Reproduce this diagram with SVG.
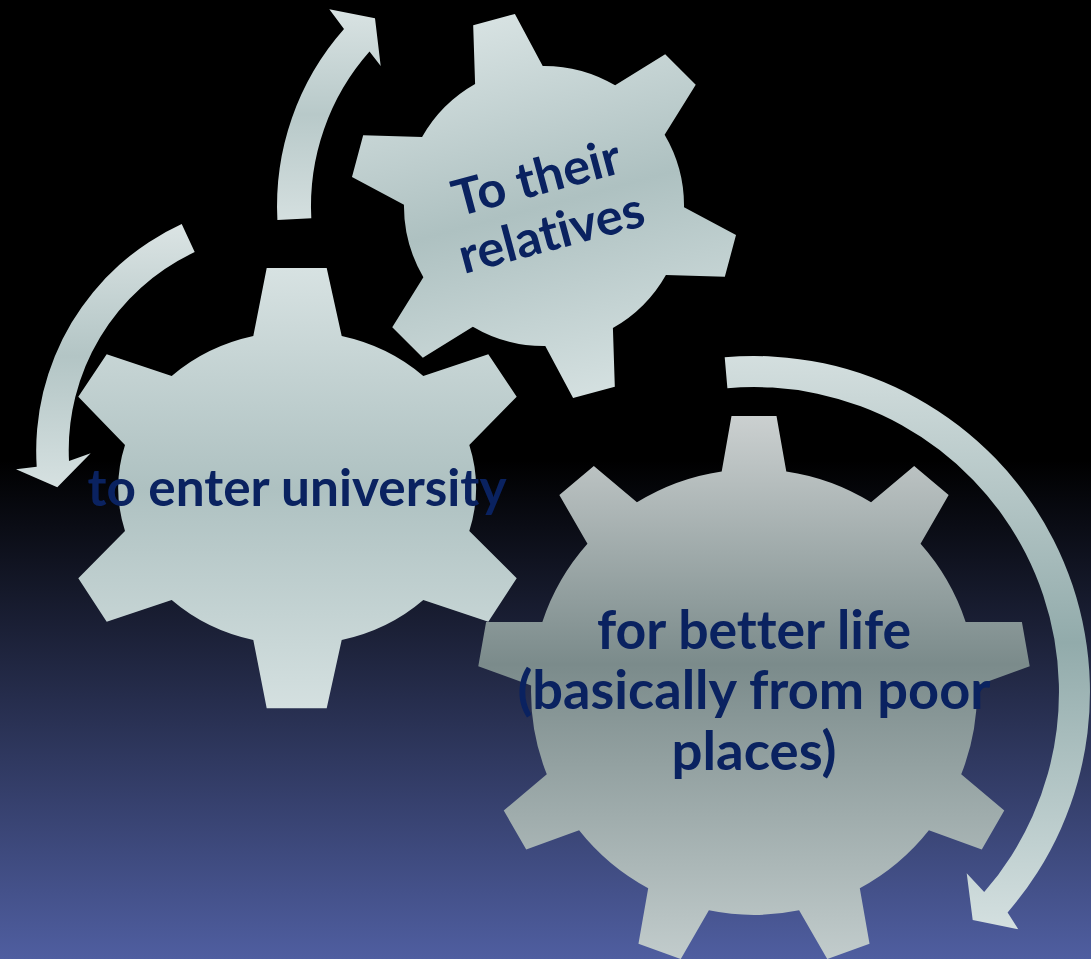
<svg xmlns="http://www.w3.org/2000/svg" width="1091" height="959" viewBox="0 0 1091 959">
  <defs>
    <linearGradient id="bg" x1="0" y1="0" x2="0" y2="959" gradientUnits="userSpaceOnUse">
      <stop offset="0" stop-color="#000000"/>
      <stop offset="0.48" stop-color="#000000"/>
      <stop offset="1" stop-color="#4f5ea0"/>
    </linearGradient>
    <linearGradient id="g1fill" x1="0" y1="268" x2="0" y2="708" gradientUnits="userSpaceOnUse">
      <stop offset="0" stop-color="#d7e2e2"/>
      <stop offset="0.5" stop-color="#aec1c1"/>
      <stop offset="1" stop-color="#d4e0e0"/>
    </linearGradient>
    <linearGradient id="g2fill" x1="0" y1="-195" x2="0" y2="195" gradientUnits="userSpaceOnUse">
      <stop offset="0" stop-color="#d7e2e2"/>
      <stop offset="0.5" stop-color="#aec1c1"/>
      <stop offset="1" stop-color="#d4e0e0"/>
    </linearGradient>
    <linearGradient id="g3fill" x1="0" y1="-276" x2="0" y2="276" gradientUnits="userSpaceOnUse">
      <stop offset="0" stop-color="#cbd0d0"/>
      <stop offset="0.45" stop-color="#7b8b8b"/>
      <stop offset="1" stop-color="#c4cece"/>
    </linearGradient>
    <linearGradient id="a1fill" x1="0" y1="9" x2="0" y2="220" gradientUnits="userSpaceOnUse">
      <stop offset="0" stop-color="#d9e3e3"/>
      <stop offset="0.5" stop-color="#b8c9c9"/>
      <stop offset="1" stop-color="#d4dfdf"/>
    </linearGradient>
    <linearGradient id="a2fill" x1="0" y1="224" x2="0" y2="488" gradientUnits="userSpaceOnUse">
      <stop offset="0" stop-color="#dbe4e4"/>
      <stop offset="0.5" stop-color="#b3c5c5"/>
      <stop offset="1" stop-color="#d6e1e1"/>
    </linearGradient>
    <linearGradient id="a3fill" x1="0" y1="355" x2="0" y2="930" gradientUnits="userSpaceOnUse">
      <stop offset="0" stop-color="#d4dfdf"/>
      <stop offset="0.5" stop-color="#92abab"/>
      <stop offset="1" stop-color="#d4e0e0"/>
    </linearGradient>
  </defs>
  <style>
    .lbl { font-family: Lato, "Open Sans", "Liberation Sans", sans-serif; font-weight: bold; fill: #0a2260; text-anchor: middle; font-variant-ligatures: none; font-feature-settings: "liga" 0, "clig" 0, "dlig" 0; }
  </style>
  <rect x="0" y="0" width="1091" height="959" fill="url(#bg)"/>

  <g id="connectors">
    <path id="arrow1" fill="url(#a1fill)" d="M 277.4,220 A 267 267 0 0 1 344,29.1 L 329.3,9.3 L 375,18.3 L 380.7,66 L 369.5,51.6 A 233 233 0 0 0 311.3,218.2 Z"/>
    <path id="arrow2" fill="url(#a2fill)" d="M 181.7,224 A 249.5 249.5 0 0 0 36.7,466.7 L 16,469.3 L 57.3,487.3 L 90.7,453.3 L 69,461 A 218.5 218.5 0 0 1 194.7,252.1 Z"/>
    <path id="arrow3" fill="url(#a3fill)" d="M 724.7,357.3 A 336 336 0 0 1 1007.6,912.4 L 1018.3,929.3 L 972.7,920 L 966.7,873.3 L 984.2,892.1 A 305 305 0 0 0 727.4,388.2 Z"/>
  </g>

  <g id="gear-relatives" transform="translate(544,206) rotate(-15)">
    <path fill="url(#g2fill)" d="M -35,-135.6 L -21.6,-193 L 21.6,-193 L 35,-135.6 A 140 140 0 0 1 99.93,-98.11 L 156.34,-115.21 L 177.94,-77.79 L 134.93,-37.49 A 140 140 0 0 1 134.93,37.49 L 177.94,77.79 L 156.34,115.21 L 99.93,98.11 A 140 140 0 0 1 35,135.6 L 21.6,193 L -21.6,193 L -35,135.6 A 140 140 0 0 1 -99.93,98.11 L -156.34,115.21 L -177.94,77.79 L -134.93,37.49 A 140 140 0 0 1 -134.93,-37.49 L -177.94,-77.79 L -156.34,-115.21 L -99.93,-98.11 A 140 140 0 0 1 -35,-135.6 Z"/>
    <text class="lbl" x="0" y="-12" font-size="50" textLength="172" lengthAdjust="spacingAndGlyphs">To their</text>
    <text class="lbl" x="0" y="45" font-size="50" textLength="190" lengthAdjust="spacingAndGlyphs">relatives</text>
  </g>

  <g id="gear-university">
    <path fill="url(#g1fill)" d="M 253.3,336 L 266.7,268 L 326.7,268 L 341.7,336 A 178 158 0 0 1 423.3,376 L 488.3,354.3 L 516.7,396.7 L 469.3,445 A 178 158 0 0 1 469.3,531 L 516.7,578.3 L 488.3,621.7 L 423.3,600 A 178 158 0 0 1 341.7,640 L 326.7,708.3 L 266.7,708.3 L 253.3,640 A 178 158 0 0 1 171.7,600 L 106.7,621.7 L 78.3,578.3 L 125,531 A 178 158 0 0 1 125,445 L 78.3,396.7 L 106.7,354.3 L 171.7,376 A 178 158 0 0 1 253.3,336 Z"/>
    <text class="lbl" x="297" y="505.7" font-size="51" textLength="419" lengthAdjust="spacingAndGlyphs">to enter university</text>
  </g>

  <g id="gear-better-life" transform="translate(754,692)">
    <path fill="url(#g3fill)" d="M -32.3,-220.6 L -22.5,-276 L 22.5,-276 L 32.3,-220.6 A 223 223 0 0 1 117.06,-189.74 L 160.17,-225.88 L 194.65,-196.96 L 166.54,-148.22 A 223 223 0 0 1 211.64,-70.12 L 267.9,-70.09 L 275.72,-25.77 L 222.86,-6.5 A 223 223 0 0 1 207.2,82.33 L 250.27,118.51 L 227.77,157.49 L 174.9,138.27 A 223 223 0 0 1 105.8,196.25 L 115.54,251.65 L 73.26,267.05 L 45.1,218.35 A 223 223 0 0 1 -45.1,218.35 L -73.26,267.05 L -115.54,251.65 L -105.8,196.25 A 223 223 0 0 1 -174.9,138.27 L -227.77,157.49 L -250.27,118.51 L -207.2,82.33 A 223 223 0 0 1 -222.86,-6.5 L -275.72,-25.77 L -267.9,-70.09 L -211.64,-70.12 A 223 223 0 0 1 -166.54,-148.22 L -194.65,-196.96 L -160.17,-225.88 L -117.06,-189.74 A 223 223 0 0 1 -32.3,-220.6 Z"/>
    <text class="lbl" x="0" y="-43.5" font-size="53" textLength="314" lengthAdjust="spacingAndGlyphs">for better life</text>
    <text class="lbl" x="0" y="17" font-size="53" textLength="473" lengthAdjust="spacingAndGlyphs">(basically from poor</text>
    <text class="lbl" x="0" y="78" font-size="53" textLength="165" lengthAdjust="spacingAndGlyphs">places)</text>
  </g>
</svg>
